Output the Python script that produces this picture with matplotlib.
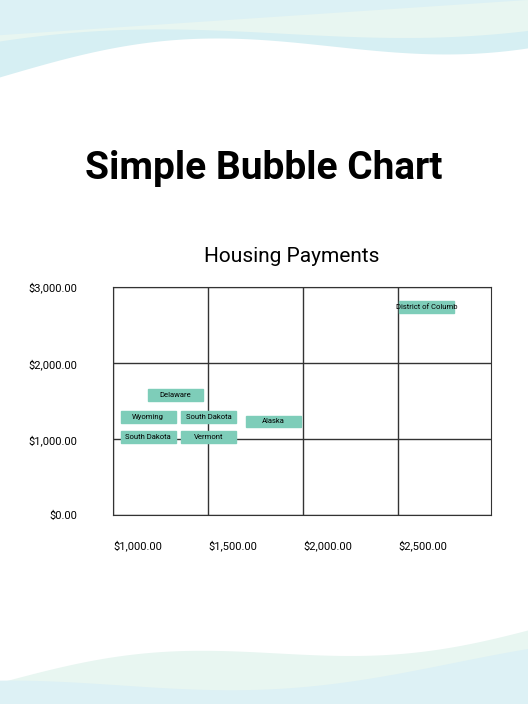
import numpy as np
import matplotlib.pyplot as plt
from matplotlib.patches import Rectangle

plt.rcParams['font.family'] = ['Roboto', 'DejaVu Sans']

# data
states = ['Delaware', 'Wyoming', 'South Dakota', 'South Dakota', 'Vermont', 'Alaska', 'District of Columb']
rent = [1330, 1185, 1505, 1185, 1505, 1845, 2650]
mortgage = [1580, 1290, 1290, 1030, 1030, 1235, 2740]
x_ticks = [1000, 1500, 2000, 2500]
y_ticks = [0, 1000, 2000, 3000]

fig = plt.figure(figsize=(5.28, 7.04), dpi=100)

# background waves
bg = fig.add_axes([0, 0, 1, 1], zorder=-1)
bg.set_xlim(0, 1)
bg.set_ylim(0, 1)
bg.axis('off')
t = np.linspace(0, 1, 200)
bg.fill_between(t, 1 - (0.11 - 0.07 * t - 0.03 * np.sin(t * 5)), 1, color='#d6eff3', lw=0)
bg.fill_between(t, 1 - (0.08 - 0.06 * t - 0.025 * np.sin(t * 4 + 1)), 1, color='#e8f6f1', lw=0)
bg.fill_between(t, 1 - (0.05 - 0.05 * t), 1, color='#dcf1f5', lw=0)
bg.fill_between(t, 0, 0.03 + 0.08 * t + 0.02 * np.sin(t * 6), color='#e8f6f1', lw=0)
bg.fill_between(t, 0, 0.015 + 0.05 * t + 0.02 * np.sin(t * 5 + 2), color='#ddf1f5', lw=0)

fig.text(0.5, 0.761, 'Simple Bubble Chart', ha='center', va='center',
         fontsize=28, fontweight='bold')

ax = fig.add_axes([0.214, 0.268, 0.716, 0.324])
ax.set_xlim(1000, 2990)
ax.set_ylim(0, 2980)
fig.text(0.553, 0.636, 'Housing Payments', ha='center', va='center', fontsize=15)
ax.set_xticks(x_ticks)
ax.set_yticks(y_ticks)
ax.set_xticklabels(['${:,.2f}'.format(v) for v in x_ticks], ha='left')
ax.set_yticklabels(['${:,.2f}'.format(v) for v in y_ticks])
ax.tick_params(length=0, labelsize=8, pad=24)
ax.tick_params(axis='x', pad=18)
ax.tick_params(axis='y', pad=26)
ax.grid(True, color='#333333', lw=1)
for s in ax.spines.values():
    s.set_color('#333333')

w, h = 290, 155
for name, x, y in zip(states, rent, mortgage):
    ax.add_patch(Rectangle((x - w / 2, y - h / 2), w, h, color='#7ecdb9', zorder=3))
    ax.text(x, y, name, ha='center', va='center', fontsize=5.5, zorder=4)

fig.savefig('out.png', dpi=100)
